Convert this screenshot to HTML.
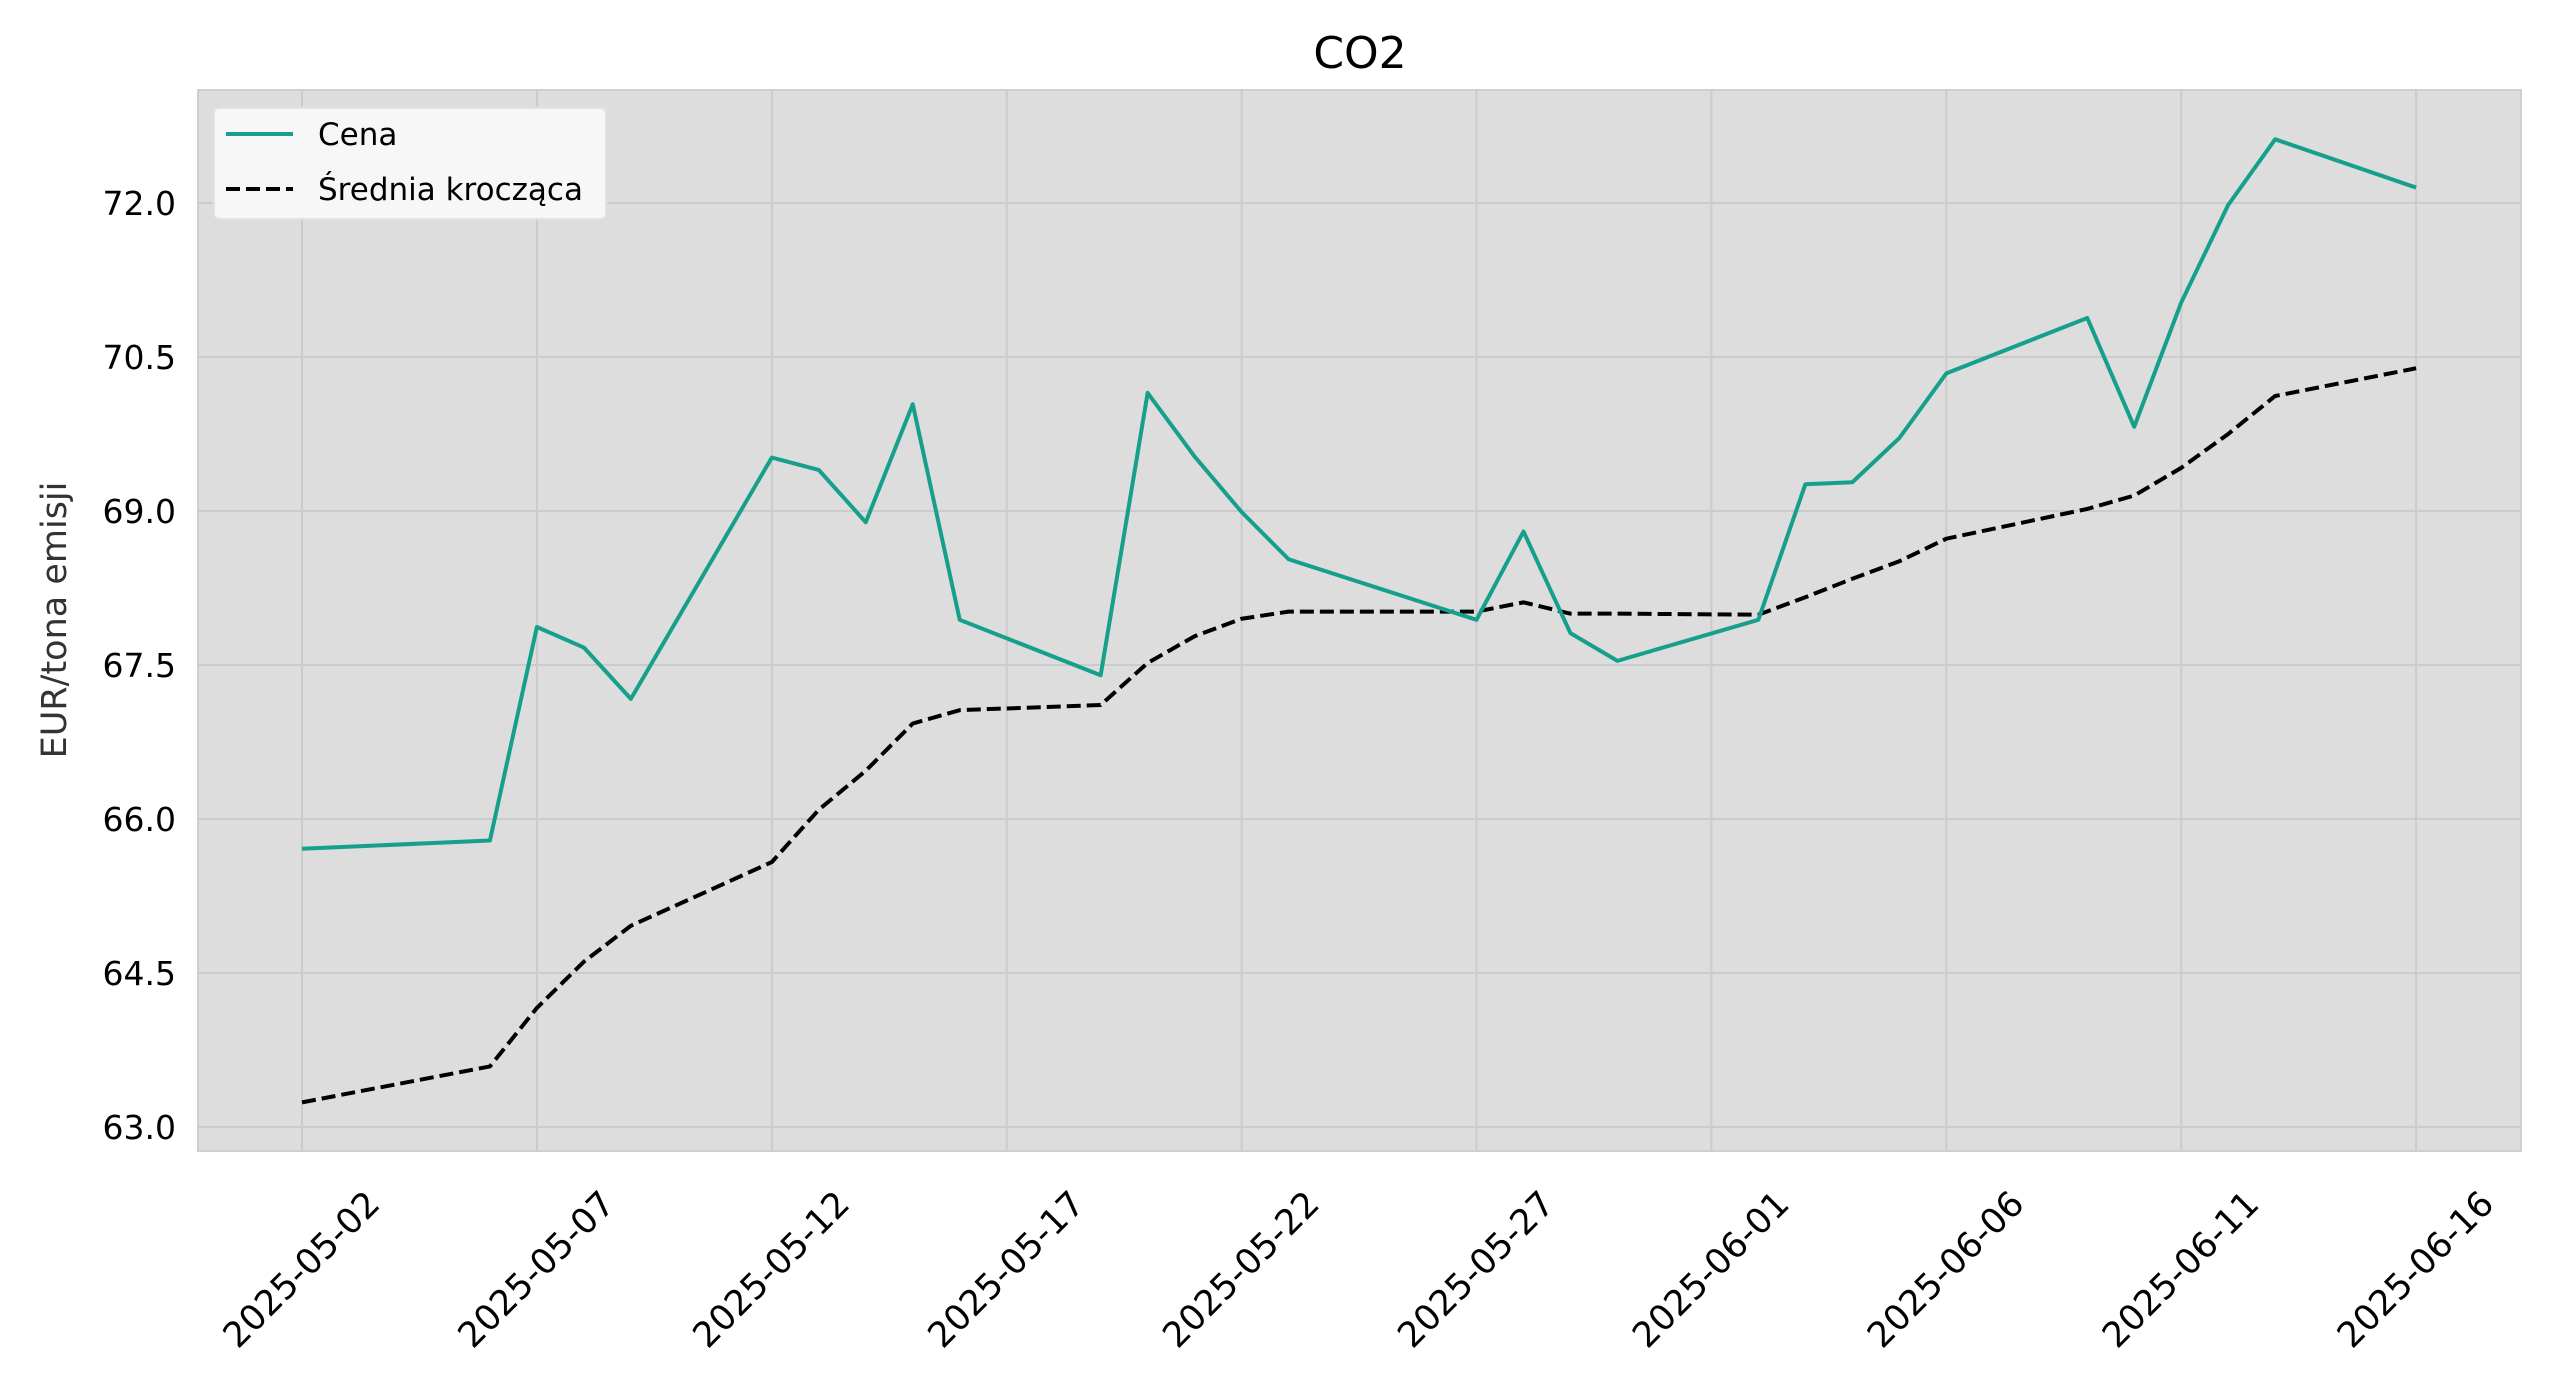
<!DOCTYPE html>
<html><head><meta charset="utf-8">
<style>
html,body{margin:0;padding:0;background:#fff;}
svg{display:block;font-family:"DejaVu Sans","Liberation Sans",sans-serif;}
</style></head>
<body>
<svg id="chart" width="2560" height="1396" xmlns="http://www.w3.org/2000/svg">
<rect x="198" y="90" width="2323" height="1061" fill="#dddddd" stroke="#cfcfcf" stroke-width="2"/>
<g id="grid"></g>
<g id="series"></g>
<g id="ticks"></g>
<text x="1360" y="68" font-size="44" text-anchor="middle" fill="#000">CO2</text>
<text x="0" y="0" font-size="35" text-anchor="middle" fill="#333" transform="translate(66,620) rotate(-90)">EUR/tona emisji</text>
<g>
<rect x="214" y="108" width="392" height="111" rx="5" fill="#f7f7f7" stroke="#e2e2e2" stroke-width="2"/>
<line x1="226" y1="134" x2="293" y2="134" stroke="#16a08c" stroke-width="4"/>
<text x="318" y="145" font-size="31" fill="#000">Cena</text>
<line x1="226" y1="189" x2="293" y2="189" stroke="#000" stroke-width="4" stroke-dasharray="14,6"/>
<text x="318" y="200" font-size="31" fill="#000">Średnia krocząca</text>
</g>
</svg>
<script>
const days = [0,4,5,6,7,10,11,12,13,14,17,18,19,20,21,25,26,27,28,31,32,33,34,35,38,39,40,41,42,45];
const cena = [65.71,65.79,67.87,67.67,67.17,69.52,69.40,68.89,70.04,67.94,67.40,70.15,69.53,68.99,68.53,67.94,68.80,67.81,67.54,67.94,69.26,69.28,69.71,70.34,70.88,69.82,71.03,71.98,72.62,72.15];
const srednia = [63.24,63.59,64.16,64.61,64.96,65.58,66.09,66.47,66.93,67.06,67.11,67.52,67.78,67.95,68.02,68.02,68.11,68.00,68.00,67.99,68.16,68.34,68.51,68.73,69.02,69.15,69.42,69.75,70.12,70.39];
const yTicks = [63.0,64.5,66.0,67.5,69.0,70.5,72.0];
const xTickDays = [0,5,10,15,20,25,30,35,40,45];
const xTickLabels = ["2025-05-02","2025-05-07","2025-05-12","2025-05-17","2025-05-22","2025-05-27","2025-06-01","2025-06-06","2025-06-11","2025-06-16"];

const NS="http://www.w3.org/2000/svg";
const L=198,R=2521,T=90,B=1151;
function xs(d){return 302+(d)*46.98;}
function ys(v){return 1127-(v-63)*102.67;}
const grid=document.getElementById('grid'),ser=document.getElementById('series'),tk=document.getElementById('ticks');
yTicks.forEach(v=>{
  const l=document.createElementNS(NS,'line');
  
  
  l.setAttribute('x1',L);l.setAttribute('x2',R);l.setAttribute('y1',ys(v));l.setAttribute('y2',ys(v));
  l.setAttribute('stroke','#cbcbcb');l.setAttribute('stroke-width','2');grid.appendChild(l);
  const t=document.createElementNS(NS,'text');
  
  
  t.setAttribute('x',176);t.setAttribute('y',ys(v)+12);t.setAttribute('font-size','33');t.setAttribute('text-anchor','end');
  t.textContent=v.toFixed(1);tk.appendChild(t);
});
xTickDays.forEach((d,i)=>{
  const l=document.createElementNS(NS,'line');
  
  
  l.setAttribute('x1',xs(d));l.setAttribute('x2',xs(d));l.setAttribute('y1',T);l.setAttribute('y2',B);
  l.setAttribute('stroke','#cbcbcb');l.setAttribute('stroke-width','2');grid.appendChild(l);
  const t=document.createElementNS(NS,'text');
  
  
  t.setAttribute('x',0);t.setAttribute('y',0);t.setAttribute('font-size','35');t.setAttribute('text-anchor','middle');
  t.setAttribute('dominant-baseline','central');
  t.setAttribute('transform','translate('+xs(d)+',1270) rotate(-45)');
  t.textContent=xTickLabels[i];tk.appendChild(t);
});
function path(vals,name,color,dash){
  const p=document.createElementNS(NS,'polyline');
  
  
  p.setAttribute('points',vals.map((v,i)=>xs(days[i])+','+ys(v)).join(' '));
  p.setAttribute('fill','none');p.setAttribute('stroke',color);p.setAttribute('stroke-width','4');
  p.setAttribute('stroke-linejoin','round');
  if(dash)p.setAttribute('stroke-dasharray',dash);
  ser.appendChild(p);
}
path(srednia,'moving-average-line','#000','14,6');
path(cena,'price-line','#16a08c',null);
</script>
</body></html>
